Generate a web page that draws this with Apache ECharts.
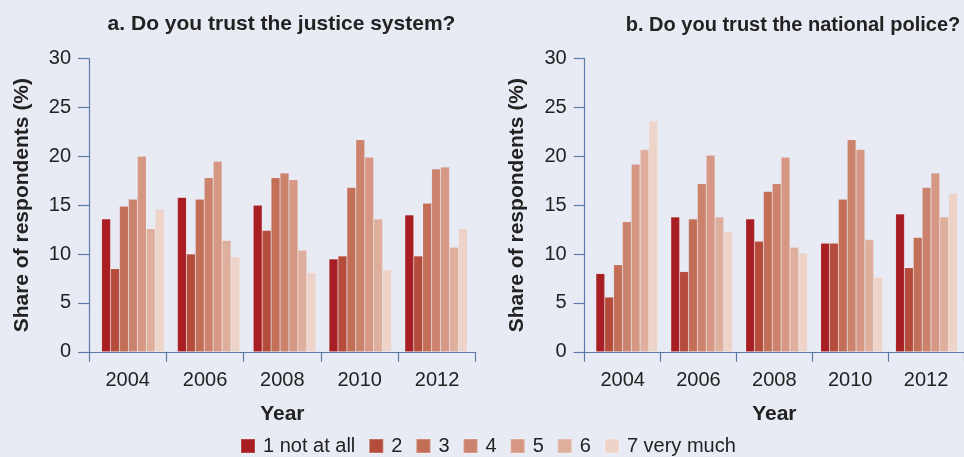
<!DOCTYPE html>
<html>
<head>
<meta charset="utf-8">
<script src="https://cdn.jsdelivr.net/npm/echarts@6/dist/echarts.min.js"></script>
<style>
html,body{margin:0;padding:0;background:#E8EBF3;}
#c{width:964px;height:457px;}
</style>
</head>
<body>
<div id="c"></div>
<script>
const years = ['2004', '2006', '2008', '2010', '2012'];
const levels = ['1 not at all', '2', '3', '4', '5', '6', '7 very much'];
const titleA = 'a. Do you trust the justice system?';
const titleB = 'b. Do you trust the national police?';
const yTicks = [0, 5, 10, 15, 20, 25, 30];

// Panel a: justice system, one array per answer level (values by year)
const justice1 = [13.6, 15.8, 15.0, 9.5, 14.0];
const justice2 = [8.5, 10.0, 12.4, 9.8, 9.8];
const justice3 = [14.9, 15.6, 17.8, 16.8, 15.2];
const justice4 = [15.6, 17.8, 18.3, 21.7, 18.7];
const justice5 = [20.0, 19.5, 17.6, 19.9, 18.9];
const justice6 = [12.6, 11.4, 10.4, 13.6, 10.7];
const justice7 = [14.6, 9.7, 8.1, 8.4, 12.6];

// Panel b: national police
const police1 = [8.0, 13.8, 13.6, 11.1, 14.1];
const police2 = [5.6, 8.2, 11.3, 11.1, 8.6];
const police3 = [8.9, 13.6, 16.4, 15.6, 11.7];
const police4 = [13.3, 17.2, 17.2, 21.7, 16.8];
const police5 = [19.2, 20.1, 19.9, 20.7, 18.3];
const police6 = [20.7, 13.8, 10.7, 11.5, 13.8];
const police7 = [23.6, 12.3, 10.1, 7.6, 16.2];

const justice = [justice1, justice2, justice3, justice4, justice5, justice6, justice7];
const police = [police1, police2, police3, police4, police5, police6, police7];
const colors = ['#A81E22', '#B44B3B', '#C36F58', '#CC836E', '#D69884', '#DFAF9D', '#EDD3C8'];

const FONT = 'Liberation Sans, Arial, sans-serif';
const AX = '#5B7BA8';
const TXT = '#222222';
const TOP = 58.5, H = 293.3;

function visAxisX(grid) {
  return {
    type: 'category', gridIndex: grid, data: years, boundaryGap: true,
    axisLine: {show: true, lineStyle: {color: AX, width: 1.2}},
    axisTick: {show: true, length: 10, inside: false, lineStyle: {color: AX, width: 1.2}},
    axisLabel: {fontFamily: FONT, fontSize: 20, color: TXT, margin: 19},
    name: 'Year', nameLocation: 'middle', nameGap: 52,
    nameTextStyle: {fontFamily: FONT, fontSize: 21, fontWeight: 'bold', color: TXT}
  };
}
function hidAxisX(grid) {
  return {type: 'category', gridIndex: grid, data: years, show: false};
}
function visAxisY(grid, gap) {
  return {
    type: 'value', gridIndex: grid, min: yTicks[0], max: yTicks[yTicks.length - 1], interval: 5,
    axisLine: {show: true, lineStyle: {color: AX, width: 1.2}},
    axisTick: {show: true, length: 11, inside: false, lineStyle: {color: AX, width: 1.2}},
    axisLabel: {fontFamily: FONT, fontSize: 20, color: TXT, margin: 18},
    splitLine: {show: false},
    name: 'Share of respondents (%)', nameLocation: 'middle', nameGap: gap, nameRotate: 90,
    nameTextStyle: {fontFamily: FONT, fontSize: 21, fontWeight: 'bold', color: TXT}
  };
}
function hidAxisY(grid) {
  return {type: 'value', gridIndex: grid, min: 0, max: 30, interval: 5, show: false, splitLine: {show: false}};
}

const series = [];
function addPanel(sets, axisIdx) {
  sets.forEach((vals, i) => {
    series.push({
      type: 'bar', name: levels[i], xAxisIndex: axisIdx, yAxisIndex: axisIdx,
      data: vals, barGap: '0%', barCategoryGap: '17.5%',
      itemStyle: {color: colors[i], borderColor: 'rgba(255,255,255,0.18)', borderWidth: 0.6},
      emphasis: {disabled: true}
    });
  });
}
addPanel(justice, 1);
addPanel(police, 3);

const chart = echarts.init(document.getElementById('c'), null, {renderer: 'canvas'});
chart.setOption({
  backgroundColor: '#E8EBF3',
  animation: false,
  color: colors,
  title: [
    {text: titleA, left: 276.5, top: 9, textAlign: 'center',
     textStyle: {fontFamily: FONT, fontSize: 21, fontWeight: 'bold', color: TXT}},
    {text: titleB, left: 788, top: 10, textAlign: 'center',
     textStyle: {fontFamily: FONT, fontSize: 20, fontWeight: 'bold', color: TXT}}
  ],
  legend: {
    data: levels, left: 235, top: 431, icon: 'rect', itemWidth: 14, itemHeight: 14, itemGap: 13,
    textStyle: {fontFamily: FONT, fontSize: 20, color: TXT, padding: [0, 0, 0, 3]},
    selectedMode: false
  },
  grid: [
    {left: 89, top: TOP, width: 386.7, height: H},
    {left: 95, top: TOP, width: 379, height: H},
    {left: 584.7, top: TOP, width: 386.3, height: H},
    {left: 589.35, top: TOP, width: 379, height: H}
  ],
  xAxis: [visAxisX(0), hidAxisX(1), visAxisX(2), hidAxisX(3)],
  yAxis: [visAxisY(0, 56), hidAxisY(1), visAxisY(2, 57), hidAxisY(3)],
  series: series
});
</script>
</body>
</html>
